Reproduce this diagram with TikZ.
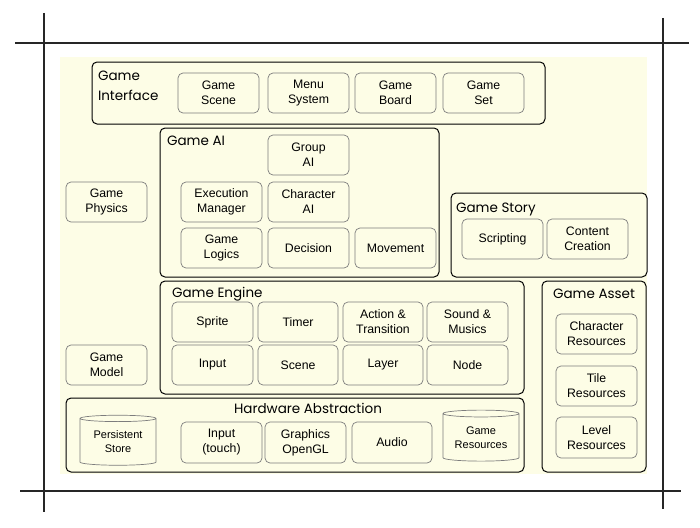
\documentclass[tikz,border=0pt]{standalone}
\usepackage{fontspec}
\setmainfont{Liberation Sans}
\newfontfamily\titlefont{Poppins}
\usetikzlibrary{shapes.geometric}
\definecolor{cream}{RGB}{253,253,230}
\definecolor{subgray}{RGB}{125,125,125}
\newcommand\mybox[7][sub]{\node[#1, minimum width={#5-#3}, minimum height={#6-#4}] (#2) at ({(#3+#5)/2},{(#4+#6)/2}) {#7};}
\begin{document}
\begin{tikzpicture}[x=1pt,y=-1pt,
  outer/.style={draw=black, line width=1pt, rounded corners=5pt, fill=cream, inner sep=0pt, outer sep=0pt},
  sub/.style={draw=subgray, line width=0.7pt, rounded corners=5pt, fill=cream, align=center, inner sep=0pt, outer sep=0pt,
    font=\fontsize{12.3}{15}\selectfont},
  cyl/.style={cylinder, shape border rotate=90, aspect=0.13, draw=subgray, line width=0.7pt, fill=cream, align=center,
    inner sep=0pt, outer sep=0pt, font=\fontsize{11}{14}\selectfont},
  ttl/.style={inner sep=0pt, outer sep=0pt, align=left, font=\titlefont\fontsize{13.5}{20}\selectfont},
  frame/.style={line width=1.8pt, black!85}]
\useasboundingbox (0,0) rectangle (700,527);
% cream background
\fill[cream] (60,57) rectangle (647,474);
% frame lines
\coordinate (t1) at (15,43); \coordinate (t2) at (689,43);
\coordinate (b1) at (20,491); \coordinate (b2) at (681,491);
\coordinate (l1) at (44,13); \coordinate (l2) at (44,512);
\coordinate (r1) at (663,18); \coordinate (r2) at (663,509);
\draw[frame] (t1) -- (t2);
\draw[frame] (b1) -- (b2);
\draw[frame] (l1) -- (l2);
\draw[frame] (r1) -- (r2);

% Game Interface
\mybox[outer]{gi}{92}{62}{545}{124}{}
\node[ttl, anchor=base west] (gititle) at (98,100) {Game\\Interface};
\mybox{gscene}{178}{73}{259}{113}{Game\\Scene}
\mybox{menu}{268}{73}{349}{113}{Menu\\System}
\mybox{gboard}{355}{73}{436}{113}{Game\\Board}
\mybox{gset}{443}{73}{524}{113}{Game\\Set}

% Game AI
\mybox[outer]{gai}{160}{128}{439}{277}{}
\node[ttl, anchor=base west] (gaititle) at (167,145) {Game AI};
\mybox{group}{268}{135}{349}{175}{Group\\AI}
\mybox{exec}{181}{182}{262}{222}{Execution\\Manager}
\mybox{charai}{268}{182}{349}{222}{Character\\AI}
\mybox{logics}{181}{228}{262}{268}{Game\\Logics}
\mybox{decision}{268}{228}{349}{268}{Decision}
\mybox{movement}{355}{228}{436}{268}{Movement}

% Game Physics
\mybox{physics}{66}{182}{147}{222}{Game\\Physics}

% Game Story
\mybox[outer]{gstory}{451}{193}{647}{277}{}
\node[ttl, anchor=base west] (gstorytitle) at (456,212) {Game Story};
\mybox{script}{462}{219}{543}{259}{Scripting}
\mybox{content}{547}{219}{628}{259}{Content\\Creation}

% Game Engine
\mybox[outer]{geng}{160}{281}{524}{394}{}
\node[ttl, anchor=base west] (gengtitle) at (172,297) {Game Engine};
\mybox{sprite}{172}{302}{253}{342}{Sprite}
\mybox{timer}{258}{302}{338}{342}{Timer}
\mybox{action}{343}{302}{423}{342}{Action \&\\Transition}
\mybox{sound}{427}{302}{508}{342}{Sound \&\\Musics}
\mybox{input}{172}{345}{253}{385}{Input}
\mybox{scene}{258}{345}{338}{385}{Scene}
\mybox{layer}{343}{345}{423}{385}{Layer}
\mybox{nodebox}{427}{345}{508}{385}{Node}

% Game Model
\mybox{model}{66}{345}{147}{385}{Game\\Model}

% Hardware Abstraction
\mybox[outer]{hw}{66}{398}{524}{472}{}
\node[ttl, anchor=base] (hwtitle) at (308,413) {Hardware Abstraction};
\node[cyl, minimum width=76pt, minimum height=50pt] (pstore) at (118,442) {Persistent\\Store};
\mybox{touch}{181}{422}{262}{463}{Input\\(touch)}
\mybox{gl}{265}{422}{346}{463}{Graphics\\OpenGL}
\mybox{audio}{352}{422}{432}{463}{Audio}
\node[cyl, minimum width=76pt, minimum height=51pt] (gres) at (481,437.5) {Game\\Resources};

% Game Asset
\mybox[outer]{gasset}{542}{281}{646}{472}{}
\node[ttl, anchor=base] (gassettitle) at (594,298) {Game Asset};
\mybox{charres}{556}{314}{637}{354}{Character\\Resources}
\mybox{tileres}{556}{366}{637}{406}{Tile\\Resources}
\mybox{levelres}{556}{417}{637}{458}{Level\\Resources}
\end{tikzpicture}
\end{document}
